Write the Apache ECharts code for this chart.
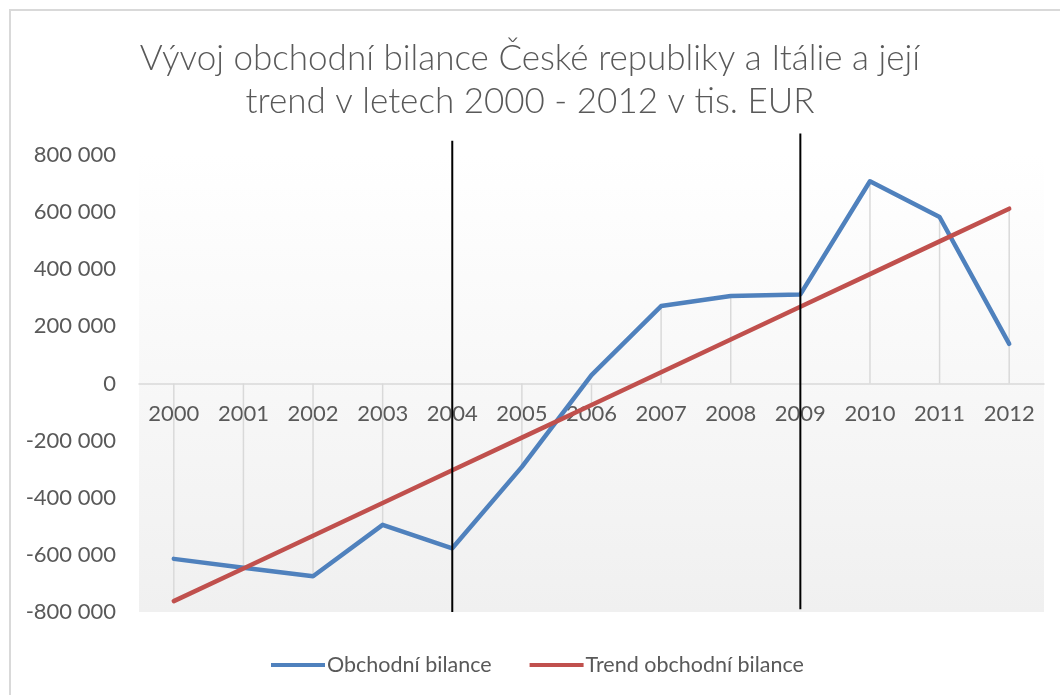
<!DOCTYPE html>
<html>
<head>
<meta charset="utf-8">
<script src="https://cdn.jsdelivr.net/npm/echarts@6/dist/echarts.min.js"></script>
<style>
  html, body { margin: 0; padding: 0; background: #fff; }
  #chart { width: 1060px; height: 695px; }
</style>
</head>
<body>
<div id="chart"></div>
<script>
// roky na ose x
var years = ["2000", "2001", "2002", "2003", "2004", "2005", "2006",
  "2007", "2008", "2009", "2010", "2011", "2012"];
// obchodní bilance (tis. EUR)
var balance = [-614000, -645000, -675000, -495000, -577000, -292000, 29000,
  271000, 306000, 312000, 708000, 583000, 139000];
// lineární trend
var trend = [-762000, -647500, -533000, -418500, -304000, -189500, -75000,
  39500, 154000, 268500, 383000, 497500, 612000];
// ručně dokreslené svislé čáry
var guideYears = ["2004", "2009"];
var guideTop = [850000, 875000];
var guideBottom = [-800000, -790000];

// spojnice k ose - k nejvzdálenějšímu bodu
var dropLines = years.map(function (y, i) {
  return Math.abs(balance[i]) > Math.abs(trend[i]) ? balance[i] : trend[i];
});

function fmt(v) {
  var s = String(Math.abs(v)).replace(/\B(?=(\d{3})+(?!\d))/g, " ");
  return (v < 0 ? "-" : "") + s;
}

var grey = "#595959";
var font = "Lato, 'Open Sans', sans-serif";

var myChart = echarts.init(document.getElementById("chart"));
var option = {
  animation: false,
  textStyle: { fontFamily: font },
  graphic: [{
    type: "rect",
    shape: { x: 10, y: 10, width: 1100, height: 800 },
    style: { fill: "none", stroke: "#d9d9d9", lineWidth: 2 },
    silent: true
  }],
  title: {
    text: "Vývoj obchodní bilance České republiky a Itálie a její\ntrend v letech 2000 - 2012 v tis. EUR",
    left: "center",
    top: 37,
    padding: 0,
    textStyle: {
      color: grey,
      fontFamily: font,
      fontSize: 35,
      fontWeight: 300,
      lineHeight: 43
    }
  },
  legend: {
    data: ["Obchodní bilance", "Trend obchodní bilance"],
    top: 649,
    left: 266,
    itemWidth: 54,
    itemHeight: 4,
    itemGap: 38,
    icon: "rect",
    textStyle: { color: grey, fontSize: 21.5, fontFamily: font, padding: [0, 0, 0, -3] }
  },
  grid: {
    left: 139,
    right: 16,
    top: 155,
    bottom: 83,
    show: true,
    borderWidth: 0,
    backgroundColor: new echarts.graphic.LinearGradient(0, 0, 0, 1, [
      { offset: 0, color: "#ffffff" },
      { offset: 1, color: "#f0f0f0" }
    ])
  },
  xAxis: {
    type: "category",
    data: years,
    boundaryGap: true,
    axisLine: { onZero: true, lineStyle: { color: "#d9d9d9", width: 1.5 } },
    axisTick: { show: false },
    axisLabel: { color: grey, fontSize: 22, fontFamily: font, margin: -209 },
    splitLine: { show: false }
  },
  yAxis: {
    type: "value",
    min: -800000,
    max: 800000,
    interval: 200000,
    axisLine: { show: false },
    axisTick: { show: false },
    splitLine: { show: false },
    axisLabel: {
      color: grey,
      fontSize: 22,
      fontFamily: font,
      margin: 23,
      formatter: fmt
    }
  },
  series: [
    {
      name: "drop",
      type: "bar",
      data: dropLines,
      barWidth: 1.5,
      silent: true,
      z: 1,
      itemStyle: { color: "#d9d9d9" }
    },
    {
      name: "Obchodní bilance",
      type: "line",
      data: balance,
      symbol: "none",
      z: 3,
      lineStyle: { color: "#4f81bd", width: 4.5, cap: "round", join: "round" },
      itemStyle: { color: "#4f81bd" }
    },
    {
      name: "Trend obchodní bilance",
      type: "line",
      data: trend,
      symbol: "none",
      z: 4,
      lineStyle: { color: "#c0504d", width: 4.5, cap: "round", join: "round" },
      itemStyle: { color: "#c0504d" }
    },
    {
      name: "guides",
      type: "custom",
      clip: false,
      z: 6,
      silent: true,
      encode: { x: 0, y: [1, 2] },
      data: guideYears.map(function (y, i) {
        return [y, guideTop[i], guideBottom[i]];
      }),
      renderItem: function (params, api) {
        var p1 = api.coord([api.value(0), api.value(1)]);
        var p2 = api.coord([api.value(0), api.value(2)]);
        return {
          type: "line",
          shape: { x1: p1[0], y1: p1[1], x2: p2[0], y2: p2[1] },
          style: { stroke: "#000", lineWidth: 2 }
        };
      }
    }
  ]
};
myChart.setOption(option);
</script>
</body>
</html>
